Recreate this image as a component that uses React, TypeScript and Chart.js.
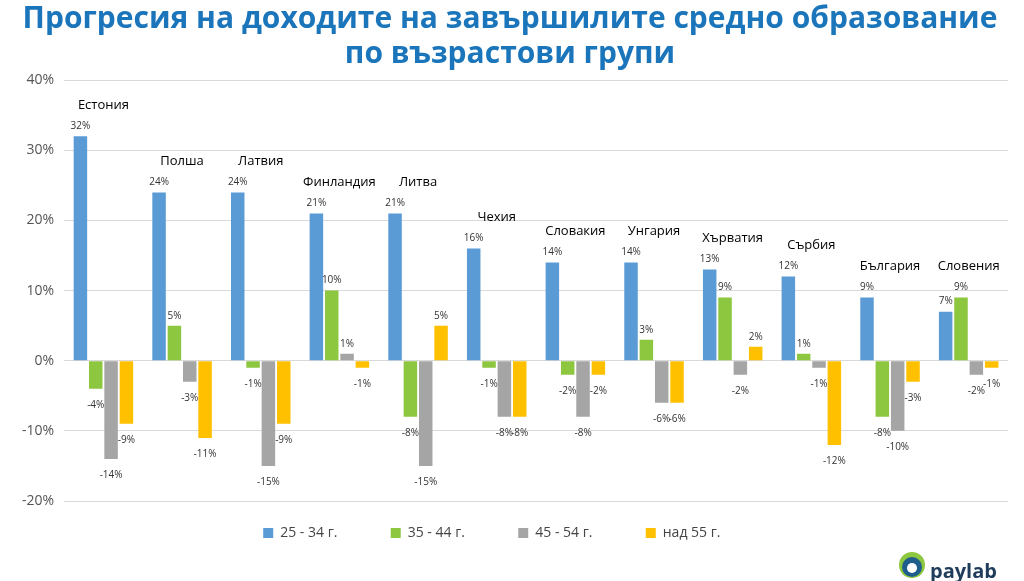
import React, { useEffect, useRef } from "react";
import { Chart, registerables } from "chart.js";
Chart.register(...registerables);

const categories = ["Естония","Полша","Латвия","Финландия","Литва","Чехия","Словакия","Унгария","Хърватия","Сърбия","България","Словения"];
const s1 = [32,24,24,21,21,16,14,14,13,12,9,7];
const s2 = [-4,5,-1,10,-8,-1,-2,3,9,1,-8,9];
const s3 = [-14,-3,-15,1,-15,-8,-8,-6,-2,-1,-10,-2];
const s4 = [-9,-11,-9,-1,5,-8,-2,-6,2,-12,-3,-1];
const seriesNames = ["25 - 34 г.","35 - 44 г.","45 - 54 г.","над 55 г."];
const colors = ["#5B9BD5","#8DC63F","#A5A5A5","#FFC000"];

const labelsPlugin = {
  id: "labels",
  afterDatasetsDraw(chart: any) {
    const ctx = chart.ctx;
    ctx.save();
    ctx.font = "10px 'Open Sans'";
    ctx.fillStyle = "#333";
    ctx.textAlign = "center";
    chart.data.datasets.forEach((ds: any, di: number) => {
      const meta = chart.getDatasetMeta(di);
      meta.data.forEach((bar: any, i: number) => {
        const v = ds.data[i];
        const y = v >= 0 ? bar.y - 10 : bar.y + 16;
        ctx.fillText(v + "%", bar.x, y);
      });
    });
    ctx.font = "13px 'Open Sans'";
    ctx.fillStyle = "#000";
    const ys = chart.scales.y;
    const m0 = chart.getDatasetMeta(0).data;
    const m3 = chart.getDatasetMeta(3).data;
    categories.forEach((c, i) => {
      const mx = Math.max(s1[i], s2[i], s3[i], s4[i]);
      const cx = (m0[i].x + m3[i].x) / 2;
      ctx.fillText(c, cx, ys.getPixelForValue(mx) - 31);
    });
    const lx = 912, ly = 565;
    ctx.beginPath(); ctx.arc(lx, ly, 13, 0, Math.PI * 2); ctx.fillStyle = "#8DC63F"; ctx.fill();
    ctx.beginPath(); ctx.arc(lx, ly + 2, 10, 0, Math.PI * 2); ctx.fillStyle = "#1F5D8C"; ctx.fill();
    ctx.beginPath(); ctx.arc(lx, ly + 3, 5, 0, Math.PI * 2); ctx.fillStyle = "#fff"; ctx.fill();
    ctx.font = "bold 20px 'Open Sans'"; ctx.fillStyle = "#1F3C5A"; ctx.textAlign = "left";
    ctx.fillText("paylab", 930, ly + 7);
    ctx.restore();
  },
};

export default function App() {
  const ref = useRef<HTMLCanvasElement>(null);
  useEffect(() => {
    const chart = new Chart(ref.current!, {
      type: "bar",
      data: {
        labels: categories,
        datasets: [s1, s2, s3, s4].map((d, i) => ({
          label: seriesNames[i], data: d, backgroundColor: colors[i],
          categoryPercentage: 0.78, barPercentage: 0.88,
        })),
      },
      options: {
        animation: false, responsive: false,
        layout: { padding: { top: 0, right: 16, bottom: 31, left: 12 } },
        plugins: {
          title: {
            display: true, text: ["Прогресия на доходите на завършилите средно образование", "по възрастови групи"],
            color: "#1B75BB", font: { family: "'Open Sans'", size: 30, weight: "bold", lineHeight: 1.17 },
            padding: { top: 2, bottom: 8 },
          },
          legend: {
            position: "bottom",
            labels: {
              boxWidth: 10, boxHeight: 10, color: "#444", font: { family: "'Open Sans'", size: 14 }, padding: 17,
              generateLabels: (chart: any) => Chart.defaults.plugins.legend.labels.generateLabels(chart).map((l: any) => ({ ...l, text: l.text + "          " })),
            },
          },
          tooltip: { enabled: false },
        },
        scales: {
          x: { grid: { display: false }, ticks: { display: false }, border: { display: false } },
          y: {
            min: -20, max: 40,
            ticks: { stepSize: 10, callback: (v: any) => v + "%", color: "#555", font: { family: "'Open Sans'", size: 14 }, padding: 10 },
            grid: { color: "#D9D9D9", drawTicks: false }, border: { display: false },
          },
        },
      },
      plugins: [labelsPlugin],
    });
    return () => chart.destroy();
  }, []);
  return (
    <div style={{ position: "absolute", left: 0, top: 0, width: 1024, height: 581, background: "#fff" }}>
      <canvas ref={ref} width={1024} height={581} />
    </div>
  );
}
